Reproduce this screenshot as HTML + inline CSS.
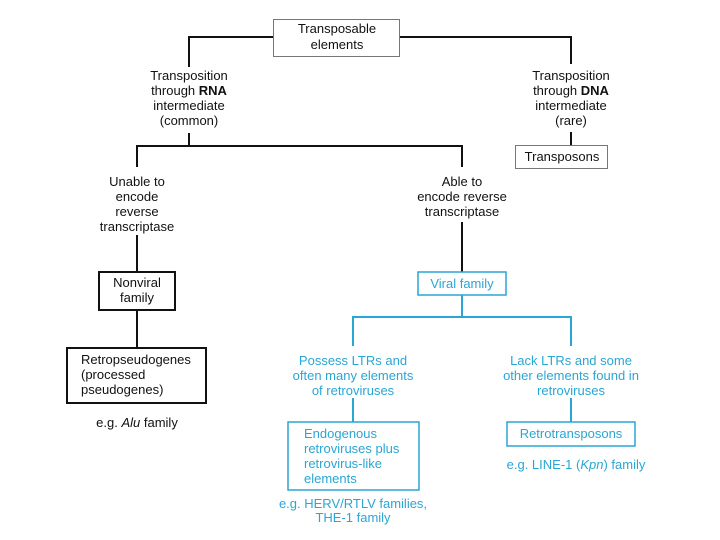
<!DOCTYPE html>
<html><head><meta charset="utf-8"><style>
html,body{margin:0;padding:0;background:#fff;}
svg{display:block;}
text{font-family:"Liberation Sans",Arial,sans-serif;font-size:13px;}
.k{fill:#111;}
.c{fill:#2aa6d4;}
</style></head><body>
<svg width="720" height="540" viewBox="0 0 720 540" xmlns="http://www.w3.org/2000/svg">
<g stroke="#111" stroke-width="2" fill="none">
<polyline points="189,67 189,37 273,37"/>
<polyline points="400,37 571,37 571,64"/>
<line x1="189" y1="133" x2="189" y2="146"/>
<polyline points="137,167 137,146 462,146 462,167"/>
<line x1="571" y1="132" x2="571" y2="145"/>
<line x1="137" y1="235" x2="137" y2="272"/>
<line x1="137" y1="310" x2="137" y2="348"/>
<line x1="462" y1="222" x2="462" y2="272"/>
</g>
<rect x="273.5" y="19.5" width="126" height="37" fill="#fff" stroke="#777" stroke-width="1"/>
<rect x="515.5" y="145.5" width="92" height="23" fill="#fff" stroke="#777" stroke-width="1"/>
<rect x="99" y="272" width="76" height="38" fill="#fff" stroke="#111" stroke-width="2"/>
<rect x="67" y="348" width="139" height="55" fill="#fff" stroke="#111" stroke-width="2"/>
<g stroke="#2aa6d4" stroke-width="2" fill="none">
<line x1="462" y1="295" x2="462" y2="317"/>
<polyline points="353,346 353,317 571,317 571,346"/>
<line x1="353" y1="398" x2="353" y2="422"/>
<line x1="571" y1="398" x2="571" y2="422"/>
</g>
<rect x="418" y="272" width="88" height="23" fill="#fff" stroke="#2aa6d4" stroke-width="1.5"/>
<rect x="288" y="422" width="131" height="68" fill="#fff" stroke="#2aa6d4" stroke-width="1.5"/>
<rect x="507" y="422" width="128" height="24" fill="#fff" stroke="#2aa6d4" stroke-width="1.5"/>

<g class="k" text-anchor="middle">
<text x="337" y="33">Transposable</text>
<text x="337" y="49">elements</text>
<text x="189" y="80">Transposition</text>
<text x="189" y="95">through <tspan font-weight="bold">RNA</tspan></text>
<text x="189" y="110">intermediate</text>
<text x="189" y="125">(common)</text>
<text x="571" y="80">Transposition</text>
<text x="571" y="95">through <tspan font-weight="bold">DNA</tspan></text>
<text x="571" y="110">intermediate</text>
<text x="571" y="125">(rare)</text>
<text x="562" y="161">Transposons</text>
<text x="137" y="186">Unable to</text>
<text x="137" y="201">encode</text>
<text x="137" y="216">reverse</text>
<text x="137" y="231">transcriptase</text>
<text x="462" y="186">Able to</text>
<text x="462" y="201">encode reverse</text>
<text x="462" y="216">transcriptase</text>
<text x="137" y="287">Nonviral</text>
<text x="137" y="302">family</text>
<text x="137" y="427">e.g. <tspan font-style="italic">Alu</tspan> family</text>
</g>
<g class="k">
<text x="81" y="364">Retropseudogenes</text>
<text x="81" y="379">(processed</text>
<text x="81" y="394">pseudogenes)</text>
</g>
<g class="c" text-anchor="middle">
<text x="462" y="288">Viral family</text>
<text x="353" y="365">Possess LTRs and</text>
<text x="353" y="380">often many elements</text>
<text x="353" y="395">of retroviruses</text>
<text x="571" y="365">Lack LTRs and some</text>
<text x="571" y="380">other elements found in</text>
<text x="571" y="395">retroviruses</text>
<text x="571" y="438">Retrotransposons</text>
<text x="576" y="469">e.g. LINE-1 (<tspan font-style="italic">Kpn</tspan>) family</text>
<text x="353" y="508">e.g. HERV/RTLV families,</text>
<text x="353" y="522">THE-1 family</text>
</g>
<g class="c">
<text x="304" y="438">Endogenous</text>
<text x="304" y="453">retroviruses plus</text>
<text x="304" y="468">retrovirus-like</text>
<text x="304" y="483">elements</text>
</g>
</svg>
</body></html>
